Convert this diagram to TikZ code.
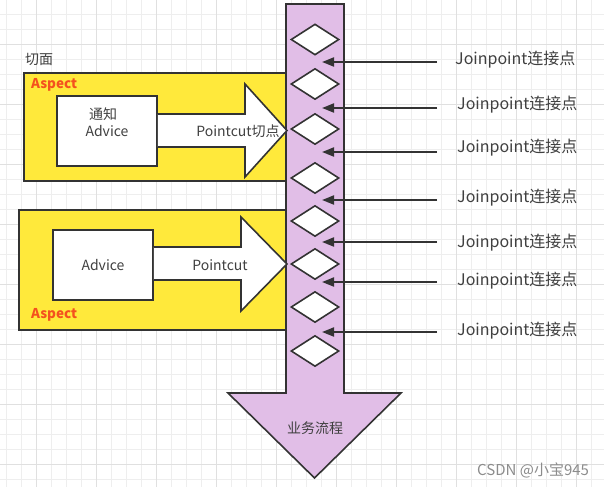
\documentclass[tikz,border=0pt]{standalone}
\usepackage{fontspec}
\setmainfont{Noto Sans CJK SC}
\usetikzlibrary{shapes.geometric,arrows.meta}
\definecolor{ink}{HTML}{333333}
\definecolor{txt}{HTML}{404040}
\definecolor{aspyellow}{HTML}{FFE93B}
\definecolor{flowpurple}{HTML}{E1BEE7}
\definecolor{aspred}{HTML}{F4511E}
\definecolor{gridminor}{HTML}{EEEEEE}
\definecolor{gridmajor}{HTML}{E0E0E0}
\tikzset{
  outline/.style={draw=ink,line width=1.6pt,line join=miter},
  aspectbox/.style={outline,fill=aspyellow},
  advicebox/.style={rectangle,draw=ink,line width=1.6pt,fill=white,inner sep=0pt,
    text=txt,font=\fontsize{14}{17}\selectfont,align=center},
  jdiamond/.style={diamond,draw=ink,line width=1.6pt,fill=white,inner sep=0pt,
    minimum width=48pt,minimum height=31pt},
  lbl/.style={text=txt,font=\fontsize{14}{17}\selectfont,inner sep=0pt},
  jplabel/.style={text=txt,font=\fontsize{16}{19}\selectfont,inner sep=0pt,anchor=west},
  asplabel/.style={text=aspred,font=\bfseries\fontsize{13.5}{15}\selectfont,inner sep=0pt,anchor=west},
  jparrow/.style={draw=ink,line width=1.8pt,-{Triangle[length=12pt,width=9pt]}},
}
\begin{document}
\begin{tikzpicture}[x=1pt,y=-1pt]
\useasboundingbox (0,0) rectangle (604,487);
\fill[white] (0,0) rectangle (604,487);
% grid
\foreach \i in {0,...,40} \draw[gridminor,line width=0.8pt] (6.7+15*\i,0) -- ++(0,487);
\foreach \i in {0,...,33} \draw[gridminor,line width=0.8pt] (0,-0.7+15*\i) -- ++(604,0);
\foreach \i in {0,...,9} \draw[gridmajor,line width=0.9pt] (36.7+60*\i,0) -- ++(0,487);
\foreach \i in {0,...,7} \draw[gridmajor,line width=0.9pt] (0,44.3+60*\i) -- ++(604,0);

% aspect boxes
\node[lbl,anchor=west] (qiemian) at (25,59) {切面};
\draw[aspectbox] (24,73) rectangle (290,181);
\draw[aspectbox] (19,210) rectangle (290,330);
\node[asplabel] (asp1) at (31,85) {Aspect};
\node[asplabel] (asp2) at (31,315) {Aspect};

% business flow arrow
\draw[outline,fill=flowpurple] (286,4) -- (344,4) -- (344,393) -- (401,393) -- (314.5,478)
  -- (228,393) -- (286,393) -- cycle;
\node[lbl] (flow) at (315,428) {业务流程};

% joinpoints (diamonds)
\foreach \n/\y in {1/39.5,2/84,3/129,4/178,5/221,6/264,7/307,8/351}
  \node[jdiamond] (d\n) at (315,\y) {};

% advice boxes
\node[advicebox,minimum width=100pt,minimum height=70pt] (adv1) at (107,131) {};
\node[lbl] (adv1t) at (103,114) {通知};
\node[lbl] (adv1b) at (107,131) {Advice};
\node[advicebox,minimum width=100pt,minimum height=70pt] (adv2) at (103,265) {Advice};

% pointcut block arrows
\draw[outline,fill=white] (adv1.east |- 0,114) -- (245,114) -- (245,84) -- (287,130.5)
  -- (245,177) -- (245,147) -- (adv1.east |- 0,147);
\node[lbl] (pc1) at (238,131) {Pointcut切点};
\draw[outline,fill=white] (adv2.east |- 0,247) -- (241,247) -- (241,217) -- (287,264)
  -- (241,311) -- (241,280) -- (adv2.east |- 0,280);
\node[lbl] (pc2) at (220,265) {Pointcut};

% joinpoint labels and arrows
\foreach \n/\y/\ly/\lx in {1/62/60/455,2/108/105/457,3/152/148/457,4/200/198/457,5/242/243/457,6/282/281/457,7/332/331/457}{
  \node[jplabel] (jp\n) at (\lx,\ly) {Joinpoint连接点};
  \coordinate (s\n) at (437,\y);
  \coordinate (t\n) at (322,\y);
  \draw[jparrow] (s\n) -- (t\n);
}

% watermark
\node[text=black!45,font=\fontsize{15}{17}\selectfont,inner sep=0pt,anchor=west] (wm) at (477,470) {CSDN @小宝945};
\end{tikzpicture}
\end{document}
